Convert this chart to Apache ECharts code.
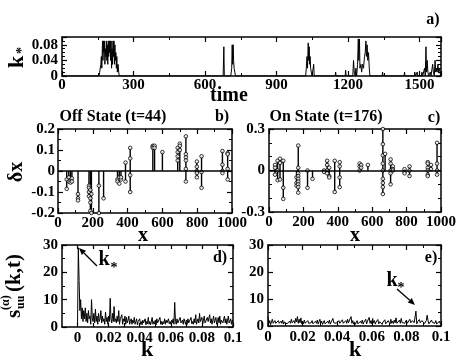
<!DOCTYPE html>
<html><head><meta charset="utf-8">
<script src="https://cdn.jsdelivr.net/npm/echarts@6/dist/echarts.min.js"></script>
<style>html,body{margin:0;padding:0;background:#fff}#c{width:456px;height:361px}</style>
</head><body><div id="c"></div>
<script>
// ---------- data ----------
// panel a: k* versus time
const aTime = [0,155,158,161,163,165,167,170,172,174,176,178,180,182,184,186,188,190,192,194,196,198,200,202,204,206,208,210,212,214,216,218,220,222,224,226,228,230,232,235,238,240,
 676,679,681,
 708,710,712,714,716,718,720,722,725,728,
 1022,1025,1028,1030,1033,1035,1037,1039,1041,1043,1046,1049,
 1054,1056,1058,1146,1148,1150,1188,1190,1192,
 1220,1223,1226,1230,1233,1236,1240,1243,1245,1248,1250,1254,1257,1261,1265,1269,1272,1275,1277,1280,1283,1286,1289,1292,
 1343,1345,1347,1435,1437,1439,1478,1480,1483,1488,1490,1492,
 1508,1510,1513,1518,1521,1524,1527,1529,1532,1535,1538,
 1543,1545,1548,1553,1555,1558,1562,1565,1568,1571,1574,1577,1580,1584,1587,1590];
const aK = [0,0,0.01,0.005,0.03,0.05,0.02,0.09,0.04,0.09,0.06,0.09,0.03,0.07,0.05,0.09,0.04,0.08,0.03,0.09,0.05,0.09,0.06,0.09,0.04,0.09,0.02,0.07,0.03,0.09,0.05,0.09,0.03,0.08,0.04,0.06,0.02,0.05,0.01,0.03,0.01,0,
 0,0.075,0,
 0,0.01,0.02,0.08,0.03,0.08,0.04,0.02,0.01,0,
 0,0.02,0.05,0.02,0.085,0.04,0.075,0.03,0.05,0.02,0.01,0,
 0,0.03,0,0,0.01,0,0,0.015,0,
 0,0.04,0.01,0,0.02,0,0.03,0.095,0.04,0.095,0.02,0.03,0.01,0.03,0.02,0.05,0.06,0.09,0.05,0.08,0.04,0.06,0.02,0,
 0,0.01,0,0,0.01,0,0,0.01,0,0,0.01,0,
 0,0.01,0,0,0.02,0,0.075,0.01,0.04,0.01,0,
 0,0.01,0,0,0.03,0.01,0,0.04,0.01,0.02,0.01,0.03,0.01,0.02,0.005,0];

// panel b: Off state (t=44), positions x and delta-x values at each position
const bPosX = [50,62,72,80,115,178,186,192,235,262,342,352,362,388,415,545,555,600,688,700,735,798,825,945,975];
const bDelta = [
 [-0.04,-0.085],[-0.03,-0.05],[-0.045,-0.055],[-0.035,-0.05],[-0.11,-0.13,-0.14],
 [-0.07,-0.08,-0.1,-0.12],[-0.09,-0.13,-0.15,-0.19],[-0.11,-0.2],[-0.07,-0.2],[-0.13],
 [-0.04,-0.05],[-0.03,-0.06],[-0.04,-0.03],[0.04,-0.05],[0.11,0.06,-0.02,-0.1],
 [0.12,0.115,0.11],[0.12,0.11],[0.09],[0.11,0.09,0.07,0.05],[0.13,0.12,0.1],
 [0.165,0.08,0.065,0.05,0.01,-0.05],[0.045,0.02,0.0,-0.01,-0.03],[0.07,-0.005,-0.08],
 [0.095,0.03,0.0,-0.01],[0.085,0.08,0.01,-0.04]];

// panel c: On state (t=176)
const cPosX = [35,50,64,83,160,170,224,253,320,338,350,382,411,527,536,575,662,675,707,720,788,817,923,942,977];
const cDelta = [
 [0.04,0.02,-0.03],[0.07,0.0,-0.07],[0.085,0.055,-0.065],[0.07,-0.125,-0.205],[-0.05,-0.09,-0.11],
 [0.18,0.02,-0.02,-0.04,-0.06,-0.08,-0.1,-0.12,-0.16],[0.0,-0.125],[-0.06],[0.0,-0.01],
 [0.07,0.04,0.0,-0.02],[0.02,-0.04,-0.05],[0.07,-0.155],[0.06,0.03,-0.05,-0.12],
 [0.05,0.03,0.0],[0.04,0.02],[0.04],[0.3,0.19,0.11,0.05,0.0,-0.06,-0.09,-0.12,-0.17],
 [0.12],[0.08,0.05,0.0,-0.02,-0.1],[0.03,0.01,0.0],[0.01,-0.01,-0.02],[0.03,0.0,-0.04],
 [0.06,0.05,0.02,0.0,-0.03,-0.04],[0.04,0.01],[0.2,0.05,0.0,-0.03]];

// panels d, e: spectra s_uu(k,t), k sampled every kStep from 0 to 0.1
const kStep = 0.0005;
const dS = [
 1,29,17,6,10,3,7,2,6,3,
 7,2,5,1.5,6,3,4,1,10,3,
 2,5,1.5,6.5,2,4,1,5,2,3,
 6,1.5,4,2,3,1,5.5,2,3.5,1,
 4,2,10.5,3,1.5,5,2,7.5,2,3,
 1.5,4,2,6,1,3,2.5,4.5,1,3,
 2,4,1,3.5,1.5,2.5,4,1,2,3,
 1,2.5,1.5,3.5,1,2,3,0.8,2,1.5,
 3,1,2,0.8,2.5,1.5,1,3,0.8,2,
 1.2,3.5,1,2,0.8,1.5,3.5,1,2,1.2,
 2.5,0.8,3,1.5,1,2,3.5,1,2,0.8,
 2,1.2,3,1,2.5,1.5,1,3,1.2,2,
 1,2.5,1.5,3,1,9,2,1,3,1.5,
 2,1,3.5,1.5,1,2.5,1,3,2,1,
 2.5,1,3,1.5,2,1,3.5,1.2,2,1,
 3,1.5,4.5,1,2,3,1.5,5,2,1.5,
 3.5,1,2.5,4,1.5,2,1,3.5,2,1.5,
 4.5,1.5,3,1,2.5,4,1.5,2,3.5,1,
 2,3.5,1.5,4,1,2.5,3,1.5,2,4,
 1.5,3,1,2.5,4,1.5,2,3,1,2.5,
 1.5];
const eS = [
 3.5,1,2,0.5,1.5,2.5,1,0.8,2,1,
 1.5,0.6,2,1,0.8,1.8,1,2.2,0.7,1.5,
 1,2,0.8,1.5,0.6,1.8,1,2.5,1.2,0.8,
 2,1,2.8,1.5,3.5,1,2.5,1.2,3,0.8,
 1.8,0.8,2.2,1,1.5,0.6,2,1,1.5,0.5,
 1.2,2,0.8,1.5,0.5,1.8,1,2.2,0.7,1.3,
 2.5,1,1.8,0.6,1.2,2,0.8,1.5,0.5,1.8,
 1,2.2,0.7,1.5,1,2.8,1.2,0.6,1.8,1,
 1.5,0.5,2,1,1.6,0.7,2.3,1,1.4,0.8,
 2,1,2.5,1.2,0.8,1.8,3.5,1,2,0.7,
 1.5,0.6,1.2,2,0.8,1.5,0.5,1.8,1,2.2,
 0.7,1.5,1,2.5,0.8,1.8,1.2,3.2,1,2,
 0.8,2.8,1.2,2,0.7,1.5,1,2.4,0.8,1.6,
 1,2,0.6,1.5,1.1,2.3,0.8,1.4,1,2,
 1.6,0.7,2.5,1,1.8,0.9,2.2,1.2,3,1,
 1.5,0.8,2.2,1,2.8,1.3,0.9,2,1,1.6,
 2.2,1,1.6,0.8,2.5,1.2,0.9,2,1.4,1.2,
 1.2,5.5,0.8,1.6,1,2.4,1.2,0.9,2,1.4,
 2,0.9,1.6,2,4,2,0.8,1.5,1,2.2,
 1.3,0.8,1.8,1,2,0.7,1.4,1,1.8,0.9,
 1];

// ---------- chart ----------
const FF = '"Liberation Serif", "Times New Roman", serif';
const BLACK = '#000';

function stems(pos, deltas) {
  return pos.map((x, i) => [x, Math.min(0, ...deltas[i]), Math.max(0, ...deltas[i])]);
}
function points(pos, deltas) {
  const out = [];
  pos.forEach((x, i) => deltas[i].forEach(v => out.push([x, v])));
  return out;
}

const plainFmt = v => String(Math.round(v * 1000) / 1000);

function axis(o) {
  const base = {
    type: 'value',
    axisLine: {show: true, onZero: false, lineStyle: {color: BLACK, width: 1.5}},
    axisTick: {show: true, inside: true, length: 5, lineStyle: {color: BLACK, width: 1.2}},
    minorTick: {show: o.minor > 1, splitNumber: o.minor || 2, length: 3, lineStyle: {color: BLACK, width: 1}},
    splitLine: {show: false},
    minorSplitLine: {show: false},
    axisLabel: o.label ? Object.assign({show: true, color: BLACK, fontFamily: FF, fontSize: 15, fontWeight: 'bold', margin: 3, formatter: plainFmt}, o.label) : {show: false}
  };
  const r = Object.assign({}, base);
  ['gridIndex','position','min','max','interval'].forEach(k => { if (o[k] !== undefined) r[k] = o[k]; });
  if (o.tickLen) r.axisTick.length = o.tickLen;
  return r;
}

const grids = [
  {left: 62, top: 37, width: 379, height: 39},
  {left: 58, top: 129, width: 174, height: 84},
  {left: 269, top: 129, width: 172, height: 83},
  {left: 62, top: 245, width: 171, height: 82},
  {left: 268, top: 245, width: 173, height: 81}
].map(g => Object.assign({containLabel: false, outerBoundsMode: 'none'}, g));

const dFmt = v => {
  const r = Math.round(v * 1000) / 1000;
  if (r < 0 || Math.round(r * 100) % 2 !== 0) return '';
  return String(r);
};

const xSpec = [
  {min: 0, max: 1590, interval: 300, minor: 2, label: {margin: 2, showMaxLabel: false}},
  {min: 0, max: 1000, interval: 200, minor: 2, label: {margin: 3}},
  {min: 0, max: 1000, interval: 200, minor: 2, label: {margin: 3}},
  {min: -0.01, max: 0.1, interval: 0.01, minor: 1, tickLen: 4, label: {margin: 4, formatter: dFmt, showMinLabel: false}},
  {min: 0, max: 0.1, interval: 0.02, minor: 2, label: {margin: 4}}
];
const ySpec = [
  {min: 0, max: 0.1, interval: 0.04, minor: 4, label: {margin: 4, showMaxLabel: false}},
  {min: -0.2, max: 0.2, interval: 0.1, minor: 2, label: {margin: 3}},
  {min: -0.3, max: 0.3, interval: 0.3, minor: 3, label: {margin: 4}},
  {min: 0, max: 30, interval: 10, minor: 2, label: {margin: 4}},
  {min: 0, max: 30, interval: 10, minor: 2, label: {margin: 4}}
];

const xAxes = [], yAxes = [];
xSpec.forEach((s, g) => {
  xAxes.push(axis(Object.assign({}, s, {gridIndex: g, position: 'bottom'})));
  xAxes.push(axis(Object.assign({}, s, {gridIndex: g, position: 'top', label: null})));
});
ySpec.forEach((s, g) => {
  yAxes.push(axis(Object.assign({}, s, {gridIndex: g, position: 'left'})));
  yAxes.push(axis(Object.assign({}, s, {gridIndex: g, position: 'right', label: null})));
});

function stemSeries(ax, data) {
  return {
    type: 'custom', xAxisIndex: ax, yAxisIndex: ax, data, clip: true,
    encode: {x: 0, y: [1, 2]},
    renderItem: (params, api) => {
      const p1 = api.coord([api.value(0), api.value(1)]);
      const p2 = api.coord([api.value(0), api.value(2)]);
      return {type: 'line', shape: {x1: p1[0], y1: p1[1], x2: p2[0], y2: p2[1]},
              style: {stroke: BLACK, lineWidth: 1.4}};
    }
  };
}
function dotSeries(ax, data) {
  return {
    type: 'scatter', xAxisIndex: ax, yAxisIndex: ax, data, clip: false,
    symbol: 'circle', symbolSize: 3.6,
    itemStyle: {color: '#fff', borderColor: BLACK, borderWidth: 1},
    markLine: {silent: true, symbol: ['none', 'none'], label: {show: false},
      lineStyle: {color: BLACK, width: 1.5, type: 'solid'}, data: [{yAxis: 0}], animation: false}
  };
}
function lineSeries(ax, data, w) {
  return {type: 'line', xAxisIndex: ax, yAxisIndex: ax, data, showSymbol: false, symbol: 'none',
          clip: true, lineStyle: {color: BLACK, width: w || 1}};
}

function T(text, x, y, font, align) {
  return {type: 'text', silent: true, style: {text, x, y, font: font + ' ' + FF, fill: BLACK,
          textAlign: align || 'center', textVerticalAlign: 'middle'}};
}
function arrow(x0, y0, x1, y1) {
  const a = Math.atan2(y1 - y0, x1 - x0), L = 7, W = 3;
  const bx = x1 - L * Math.cos(a), by = y1 - L * Math.sin(a);
  const nx = -Math.sin(a) * W, ny = Math.cos(a) * W;
  return [
    {type: 'line', silent: true, shape: {x1: x0, y1: y0, x2: bx, y2: by}, style: {stroke: BLACK, lineWidth: 1.3}},
    {type: 'polygon', silent: true, shape: {points: [[x1, y1], [bx + nx, by + ny], [bx - nx, by - ny]]}, style: {fill: BLACK}}
  ];
}
function rotGroup(x, y, children) {
  return {type: 'group', x, y, rotation: Math.PI / 2, silent: true, children};
}

const graphic = [
  T('a)', 433, 20, 'bold 16px'),
  T('time', 229, 96, 'bold 20px'),
  T('Off State (t=44)', 113, 117, 'bold 16px'),
  T('b)', 222, 117, 'bold 16px'),
  T('On State (t=176)', 326, 117, 'bold 16px'),
  T('c)', 434, 118, 'bold 16px'),
  T('x', 143, 236, 'bold 20px'),
  T('x', 355, 236, 'bold 20px'),
  T('d)', 220, 258, 'bold 16px'),
  T('e)', 431, 258, 'bold 16px'),
  T('k', 147, 350, 'bold 22px'),
  T('k', 355, 350, 'bold 22px'),
  T('k', 104, 260, 'bold 20px'),
  T('*', 114, 268, 'bold 14px'),
  T('k', 392, 281, 'bold 20px'),
  T('*', 401, 288, 'bold 14px'),
  ...arrow(97, 266, 79, 248),
  ...arrow(397, 289, 415, 305),
  rotGroup(17, 68, [T('k', 0, 0, 'bold 22px', 'left'), T('*', 14, 5, 'bold 14px', 'left')]),
  rotGroup(17, 172, [T('δx', 0, 0, 'bold 20px')]),
  rotGroup(15, 318, [
    T('s', 0, 0, 'bold 21px', 'left'),
    T('uu', 9, 6, 'bold 12px', 'left'),
    T('(α)', 8, -9, 'bold 12px', 'left'),
    T('(k,t)', 26, 0, 'bold 21px', 'left')
  ])
];

const chart = echarts.init(document.getElementById('c'), null, {renderer: 'canvas'});
chart.setOption({
  animation: false,
  backgroundColor: '#fff',
  grid: grids,
  xAxis: xAxes,
  yAxis: yAxes,
  series: [
    lineSeries(0, aTime.map((t, i) => [t, aK[i]]), 1),
    stemSeries(2, stems(bPosX, bDelta)),
    dotSeries(2, points(bPosX, bDelta)),
    stemSeries(4, stems(cPosX, cDelta)),
    dotSeries(4, points(cPosX, cDelta)),
    lineSeries(6, dS.map((v, i) => [i * kStep, v]), 1),
    lineSeries(8, eS.map((v, i) => [i * kStep, v]), 1)
  ],
  graphic
});
</script></body></html>
